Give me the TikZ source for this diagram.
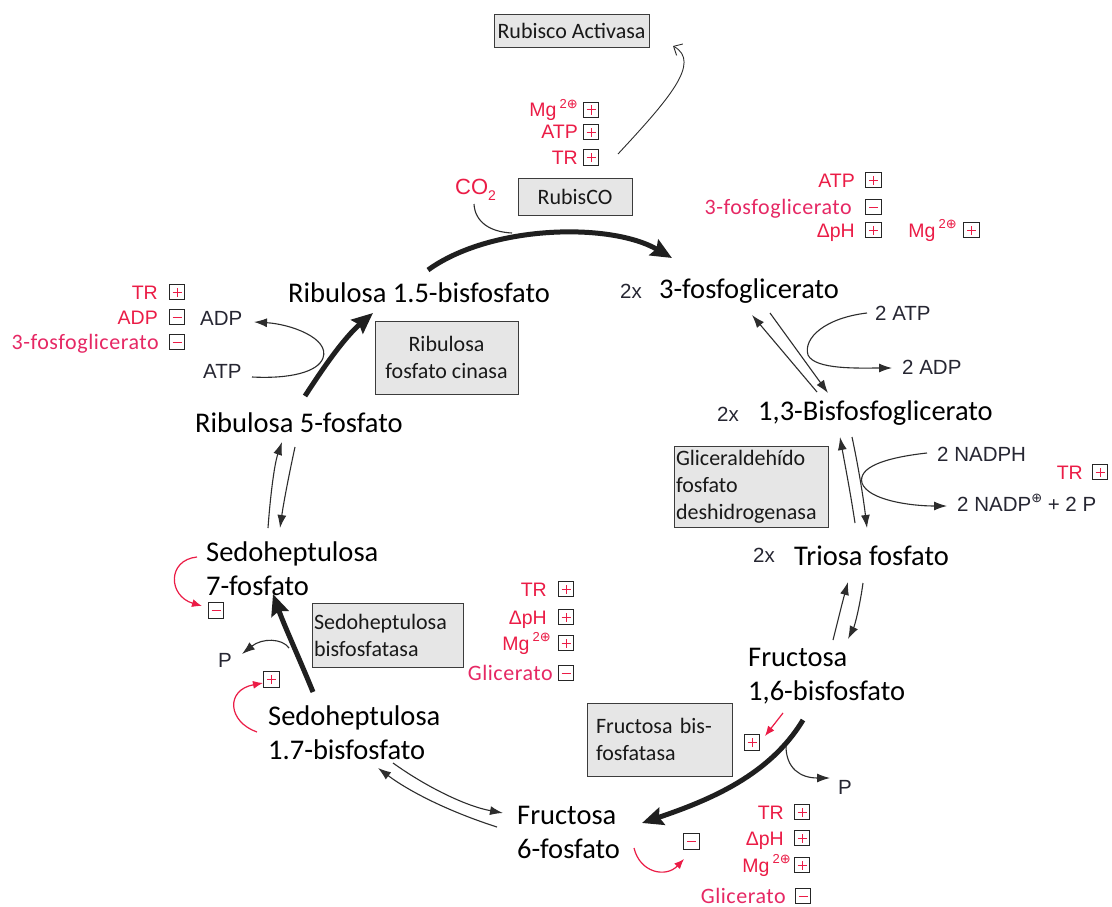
\documentclass[tikz,border=0pt]{standalone}
\usepackage{fontspec}
\setmainfont{Carlito}
\newfontfamily\arialf{Liberation Sans}
\newfontfamily\djv{DejaVu Sans}
\newfontfamily\carsp{Carlito}[LetterSpace=2.5]
\usetikzlibrary{arrows.meta}
\definecolor{mred}{RGB}{235,28,70}
\definecolor{pred}{RGB}{230,40,100}
\definecolor{dk}{RGB}{38,38,50}
\definecolor{boxfill}{RGB}{230,230,230}
\definecolor{boxline}{RGB}{60,60,60}
\definecolor{arr}{RGB}{45,45,45}
\newcommand{\Mgt}{Mg\,\raisebox{0.42em}{\fontsize{13}{13}\selectfont 2{\djv ⊕}}}
\tikzset{
  cmp/.style={font=\fontsize{28.5}{34}\selectfont, anchor=west, inner sep=0pt, align=left, text=black},
  enz/.style={draw=boxline, fill=boxfill, line width=0.9pt, font=\fontsize{22}{27}\selectfont, inner sep=0pt, text=black!90},
  md/.style={font=\arialf\fontsize{19.5}{21}\selectfont, text=mred, anchor=east, inner sep=0pt, text height=14pt, text depth=0pt},
  mdc/.style={font=\carsp\fontsize{22}{24}\selectfont, text=pred, anchor=east, inner sep=0pt, text height=14pt, text depth=0pt},
  lb/.style={font=\arialf\fontsize{20.5}{22}\selectfont, text=dk, anchor=west, inner sep=0pt, text height=14.7pt, text depth=0pt},
  sq/.style={draw=black!85, line width=0.9pt, minimum size=15.5pt, inner sep=0pt, fill=white},
  pl/.style={sq, path picture={\draw[mred, line width=1pt] ([xshift=-4.5pt]path picture bounding box.center) -- ([xshift=4.5pt]path picture bounding box.center) ([yshift=-4.5pt]path picture bounding box.center) -- ([yshift=4.5pt]path picture bounding box.center);}},
  mi/.style={sq, path picture={\draw[mred, line width=1pt] ([xshift=-4.5pt]path picture bounding box.center) -- ([xshift=4.5pt]path picture bounding box.center);}},
  tarr/.style={draw=arr, line width=1.1pt, -{Latex[length=13pt,width=9pt]}},
  tline/.style={draw=arr, line width=1.1pt},
  barr/.style={draw=black!88, line width=5pt, -{Stealth[length=21pt,width=18pt,inset=3pt]}},
  rarr/.style={draw=mred, line width=1.2pt, -{Latex[length=10pt,width=8pt]}},
  barb/.style={draw=arr, line width=0.9pt, -{Straight Barb[length=7pt,width=13pt]}},
}
\begin{document}
\begin{tikzpicture}[x=1pt,y=-1pt]
\useasboundingbox (0,0) rectangle (1112,907);
\fill[white] (0,0) rectangle (1112,907);

% ---------- enzyme boxes ----------
\node[enz, minimum width=155pt, minimum height=33pt] (ra) at (571.5,30.5) {Rubisco Activasa};
\node[enz, minimum width=114pt, minimum height=37pt] (rub) at (575,196.5) {RubisCO};
\node[enz, minimum width=143pt, minimum height=73pt, align=center] (rfc) at (446.5,357.5) {Ribulosa\\fosfato cinasa};
\node[enz, minimum width=154pt, minimum height=81pt, text width=150pt, align=left] (gfd) at (751,486.5) {Gliceraldehído\\fosfato\\deshidrogenasa};
\node[enz, minimum width=151pt, minimum height=64pt, text width=147pt, align=left] (sbp) at (387.5,635) {Sedoheptulosa\\bisfosfatasa};
\node[enz, minimum width=145pt, minimum height=73pt, text width=127pt, align=left] (fbp) at (659.5,739.5) {Fructosa bis-\\fosfatasa};

% ---------- compounds ----------
\node[cmp] (r15) at (288,293) {Ribulosa 1.5-bisfosfato};
\node[cmp] (pga) at (659,291) {3-fosfoglicerato};
\node[cmp] (bpg) at (758,413) {1,3-Bisfosfoglicerato};
\node[cmp] (tp) at (794,556) {Triosa fosfato};
\node[cmp] (f16) at (748,676.5) {Fructosa\\1,6-bisfosfato};
\node[cmp] (f6) at (517,832.5) {Fructosa\\6-fosfato};
\node[cmp] (s17) at (268,733) {Sedoheptulosa\\1.7-bisfosfato};
\node[cmp] (s7) at (206,568.5) {Sedoheptulosa\\7-fosfato};
\node[cmp] (r5) at (195,423) {Ribulosa 5-fosfato};

% ---------- black labels ----------
\node[lb] (x1) at (620,291) {2x};
\node[lb] (x2) at (717,414) {2x};
\node[lb] (x3) at (753,555) {2x};
\node[lb] (adp) at (200,318) {ADP};
\node[lb] (atp) at (203,371) {ATP};
\node[lb] (atp2) at (875,313) {2 ATP};
\node[lb] (adp2) at (902,367) {2 ADP};
\node[lb] (nadph) at (937,454) {2 NADPH};
\node[lb] (nadp) at (957,504) {2 NADP\raisebox{0.42em}{\fontsize{13}{13}\selectfont\djv ⊕} + 2 P};
\node[lb] (p1) at (838,787) {P};
\node[lb] (p2) at (218,660) {P};
\node[font=\arialf\fontsize{22}{24}\selectfont, text=mred, anchor=west, inner sep=0pt] (co2) at (455,190) {CO\raisebox{-0.3em}{\fontsize{14}{14}\selectfont 2}};

% ---------- modifiers: Rubisco activasa ----------
\node[md] (m1) at (578,110) {\Mgt};   \node[pl] (b1) at (591,110) {};
\node[md] (m2) at (578,132) {ATP};    \node[pl] (b2) at (591,132) {};
\node[md] (m3) at (578,157.5) {TR};   \node[pl] (b3) at (591,157.5) {};

% ---------- modifiers: RubisCO ----------
\node[md] (m4) at (855,180) {ATP};               \node[pl] (b4) at (873.5,180) {};
\node[mdc] (m5) at (852,207) {3-fosfoglicerato}; \node[mi] (b5) at (873.5,207) {};
\node[md] (m6) at (855,230) {ΔpH};               \node[pl] (b6) at (873.5,230) {};
\node[md] (m7) at (957,230) {\Mgt};              \node[pl] (b7) at (971.5,230) {};

% ---------- modifiers: ribulosa fosfato cinasa ----------
\node[md] (m8) at (158,292) {TR};                 \node[pl] (b8) at (177,292) {};
\node[md] (m9) at (158,317) {ADP};                \node[mi] (b9) at (177,317) {};
\node[mdc] (m10) at (159,342) {3-fosfoglicerato}; \node[mi] (b10) at (177,342) {};

% ---------- modifier: GAPDH ----------
\node[md] (m11) at (1083,472) {TR}; \node[pl] (b11) at (1100,472) {};

% ---------- modifiers: SBPasa ----------
\node[md] (m12) at (547,589) {TR};         \node[pl] (b12) at (566,589) {};
\node[md] (m13) at (547,617) {ΔpH};        \node[pl] (b13) at (566,617) {};
\node[md] (m14) at (551,643) {\Mgt};       \node[pl] (b14) at (566,643) {};
\node[mdc] (m15) at (553,673) {Glicerato}; \node[mi] (b15) at (566,673) {};

% ---------- modifiers: FBPasa ----------
\node[md] (m16) at (784,812) {TR};         \node[pl] (b16) at (802,812) {};
\node[md] (m17) at (784,838) {ΔpH};        \node[pl] (b17) at (802,838) {};
\node[md] (m18) at (791,865) {\Mgt};       \node[pl] (b18) at (802,865) {};
\node[mdc] (m19) at (786,896) {Glicerato}; \node[mi] (b19) at (803,896) {};

% ---------- single regulation boxes ----------
\node[mi] (q1) at (216,610.5) {};
\node[pl] (q2) at (271.5,679.5) {};
\node[pl] (q3) at (752,742.5) {};
\node[mi] (q4) at (691.5,841.5) {};

% ---------- connector end points ----------
\coordinate (c1a) at (618,154);  \coordinate (c1b) at (673,46);
\coordinate (c2a) at (428,270);  \coordinate (c2b) at (672,258);
\coordinate (c3a) at (474,204);  \coordinate (c3b) at (512,233);
\coordinate (c4a) at (817,392);  \coordinate (c4b) at (752,315);
\coordinate (c5a) at (770,313);  \coordinate (c5b) at (828,393);
\coordinate (c6a) at (867,313);  \coordinate (c6m) at (808,355); \coordinate (c6b) at (892,368);
\coordinate (c7a) at (855,523);  \coordinate (c7b) at (840,437);
\coordinate (c8a) at (852,437);  \coordinate (c8b) at (867,528);
\coordinate (c9a) at (927,453);  \coordinate (c9m) at (862,483); \coordinate (c9b) at (947,506);
\coordinate (c10a) at (833,640); \coordinate (c10b) at (848,582);
\coordinate (c11a) at (863,583); \coordinate (c11b) at (848,639);
\coordinate (c12a) at (803,720); \coordinate (c12b) at (642,823);
\coordinate (c13a) at (786,746); \coordinate (c13b) at (830,778);
\coordinate (c14a) at (783,713); \coordinate (c14b) at (765,736);
\coordinate (c15a) at (634,848); \coordinate (c15b) at (684,859);
\coordinate (c16a) at (497,827); \coordinate (c16b) at (378,768);
\coordinate (c17a) at (393,763); \coordinate (c17b) at (503,813);
\coordinate (c18a) at (313,692); \coordinate (c18b) at (273,594);
\coordinate (c19a) at (289,648); \coordinate (c19b) at (242,654);
\coordinate (c20a) at (257,732); \coordinate (c20b) at (263,683);
\coordinate (c21a) at (197,557); \coordinate (c21b) at (202,606);
\coordinate (c22a) at (268,528); \coordinate (c22b) at (282,442);
\coordinate (c23a) at (295,447); \coordinate (c23b) at (280,528);
\coordinate (c24a) at (305,396); \coordinate (c24b) at (373,313);
\coordinate (c25a) at (252,377); \coordinate (c25m) at (323,358); \coordinate (c25b) at (254,322);

% ---------- connectors ----------
\draw[barb] (c1a) .. controls (668,100) and (702,62) .. (c1b);
\draw[tline] (c3a) .. controls (475,222) and (490,232) .. (c3b);
\draw[barr] (c2a) .. controls (490,225) and (610,222) .. (c2b);

\draw[tarr] (c4a) -- (c4b);
\draw[tarr] (c5a) -- (c5b);
\draw[tarr] (c6a) .. controls (825,318) and (803,338) .. (c6m) .. controls (815,370) and (860,368) .. (c6b);

\draw[tarr] (c7a) .. controls (850,490) and (845,465) .. (c7b);
\draw[tarr] (c8a) .. controls (858,465) and (863,495) .. (c8b);
\draw[tarr] (c9a) .. controls (882,458) and (858,468) .. (c9m) .. controls (868,500) and (910,506) .. (c9b);

\draw[tarr] (c10a) .. controls (838,620) and (843,600) .. (c10b);
\draw[tarr] (c11a) .. controls (860,605) and (855,625) .. (c11b);

\draw[barr] (c12a) .. controls (770,775) and (710,800) .. (c12b);
\draw[tarr] (c13a) .. controls (786,768) and (800,778) .. (c13b);
\draw[rarr] (c14a) -- (c14b);
\draw[rarr] (c15a) .. controls (640,873) and (666,878) .. (c15b);

\draw[tarr] (c16a) .. controls (450,812) and (410,792) .. (c16b);
\draw[tarr] (c17a) .. controls (425,786) and (465,806) .. (c17b);

\draw[barr] (c18a) .. controls (300,660) and (284,625) .. (c18b);
\draw[tarr] (c19a) .. controls (282,638) and (262,638) .. (c19b);
\draw[rarr] (c20a) .. controls (228,722) and (225,690) .. (c20b);
\draw[rarr] (c21a) .. controls (167,560) and (168,596) .. (c21b);

\draw[tarr] (c22a) .. controls (270,500) and (274,465) .. (c22b);
\draw[tarr] (c23a) .. controls (290,470) and (284,500) .. (c23b);

\draw[barr] (c24a) .. controls (325,365) and (345,337) .. (c24b);
\draw[tarr] (c25a) .. controls (290,379) and (318,372) .. (c25m) .. controls (330,338) and (290,324) .. (c25b);
\end{tikzpicture}
\end{document}
